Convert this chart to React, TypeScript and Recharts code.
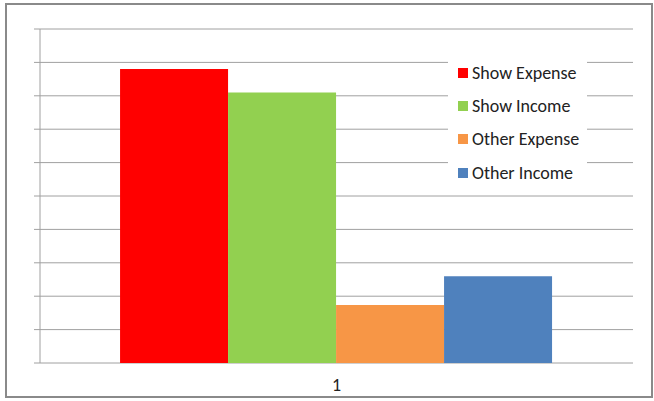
import { Bar, BarChart, CartesianGrid, XAxis, YAxis } from "recharts";

const categories = ["1"];
const seriesNames = ["Show Expense", "Show Income", "Other Expense", "Other Income"];
const seriesColors = ["#ff0000", "#92d050", "#f79646", "#4f81bd"];
const showExpense = [8.8];
const showIncome = [8.1];
const otherExpense = [1.74];
const otherIncome = [2.6];
const yTicks = [0, 1, 2, 3, 4, 5, 6, 7, 8, 9, 10];
const edgeTicks = [0, 1];

const seriesValues = [showExpense, showIncome, otherExpense, otherIncome];
const keys = ["s0", "s1", "s2", "s3"];

const data = categories.map((name, i) => {
  const row: Record<string, string | number> = { name };
  seriesValues.forEach((vals, s) => {
    row[keys[s]] = vals[i];
  });
  return row;
});

const font = "Calibri, Carlito, 'Liberation Sans', Arial, sans-serif";
const axisGray = "#a0a0a0";

function ChartLegend() {
  return (
    <div
      style={{
        position: "absolute",
        left: 448,
        top: 56,
        background: "#fff",
        padding: "0 8px 0 10px",
        fontFamily: font,
        fontSize: 18,
        color: "#222",
      }}
    >
      {seriesNames.map((n, i) => (
        <div key={n} style={{ display: "flex", alignItems: "center", height: 33.4 }}>
          <span style={{ width: 10, height: 10, background: seriesColors[i], marginRight: 4 }} />
          {n}
        </div>
      ))}
    </div>
  );
}

export default function App() {
  return (
    <div style={{ position: "fixed", left: 0, top: 0, width: 654, height: 401, background: "#fff" }}>
      <div
        style={{
          position: "absolute",
          left: 5,
          top: 3,
          width: 648,
          height: 395,
          border: "2px solid #8a8a8a",
          boxSizing: "border-box",
        }}
      />
      <BarChart
        width={654}
        height={401}
        data={data}
        margin={{ top: 29, right: 21, left: 0, bottom: 0 }}
        barCategoryGap="13.5%"
        barGap={0}
        style={{ position: "absolute", left: 0, top: 0 }}
      >
        <CartesianGrid horizontal vertical={false} stroke={axisGray} />
        <XAxis
          xAxisId="a"
          type="number"
          domain={[0, 1]}
          ticks={edgeTicks}
          tickFormatter={() => ""}
          height={0}
          tickSize={6}
          stroke={axisGray}
        />
        <XAxis
          xAxisId="b"
          dataKey="name"
          height={38}
          axisLine={false}
          tickLine={false}
          tick={{ fill: "#222", fontSize: 18, fontFamily: font }}
          tickMargin={9}
        />
        <YAxis
          width={40}
          domain={[0, 10]}
          ticks={yTicks}
          tickFormatter={() => ""}
          tickSize={6}
          stroke={axisGray}
        />
        {keys.map((k, i) => (
          <Bar key={k} xAxisId="b" dataKey={k} name={seriesNames[i]} fill={seriesColors[i]} isAnimationActive={false} />
        ))}
      </BarChart>
      <ChartLegend />
    </div>
  );
}
